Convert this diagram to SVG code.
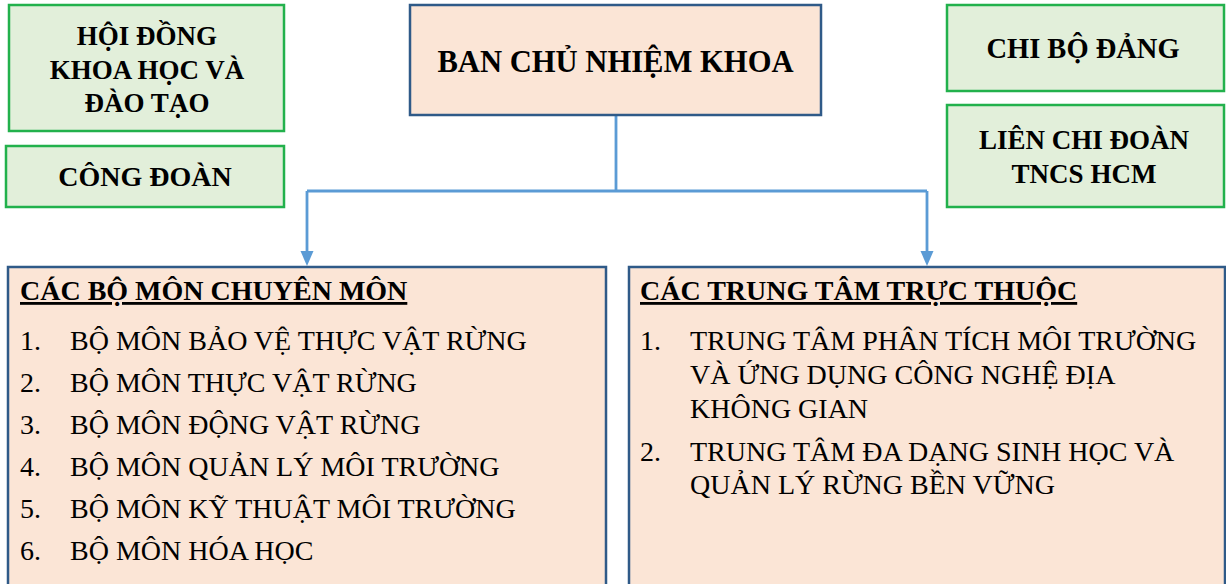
<svg xmlns="http://www.w3.org/2000/svg" width="1226" height="584" viewBox="0 0 1226 584">
<style>
.g{fill:#e2efda;stroke:#22b14c;stroke-width:2.5}
.p{fill:#fbe5d6;stroke:#2f5a88;stroke-width:2.5}
.t{font-family:"Liberation Serif","Times New Roman",serif;fill:#000}
.b{font-weight:bold;font-size:27px;text-anchor:middle}
.h{font-weight:bold;font-size:28px;text-decoration:underline}
.r{font-size:28px}
.c{fill:none;stroke:#5b9bd5;stroke-width:2.8}
</style>
<rect width="1226" height="584" fill="#fff"/>
<g id="connectors">
<path class="c" d="M616,115 V191"/>
<path class="c" d="M307,191 H927"/>
<path class="c" d="M307,191 V252"/>
<path class="c" d="M927,191 V252"/>
<path d="M300.5,251 L313.5,251 L307,266 Z" fill="#5b9bd5"/>
<path d="M920.5,251 L933.5,251 L927,266 Z" fill="#5b9bd5"/>
</g>
<g id="hoi-dong">
<rect class="g" x="9" y="5" width="275" height="126"/>
<text class="t b" x="147" y="45">HỘI ĐỒNG</text>
<text class="t b" x="147" y="79">KHOA HỌC VÀ</text>
<text class="t b" x="147" y="112">ĐÀO TẠO</text>
</g>
<g id="cong-doan">
<rect class="g" x="6" y="146" width="278" height="61"/>
<text class="t b" x="145" y="186" style="font-size:28px">CÔNG ĐOÀN</text>
</g>
<g id="ban-chu-nhiem">
<rect class="p" x="410" y="5" width="411" height="110"/>
<text class="t b" x="615.5" y="72" style="font-size:30.6px">BAN CHỦ NHIỆM KHOA</text>
</g>
<g id="chi-bo">
<rect class="g" x="947" y="5" width="277" height="86"/>
<text class="t b" x="1083" y="58" style="font-size:28.5px">CHI BỘ ĐẢNG</text>
</g>
<g id="lien-chi-doan">
<rect class="g" x="947" y="105" width="277" height="102"/>
<text class="t b" x="1084" y="149">LIÊN CHI ĐOÀN</text>
<text class="t b" x="1084" y="183">TNCS HCM</text>
</g>
<g id="bo-mon">
<rect class="p" x="8" y="267" width="598" height="330"/>
<text class="t h" x="20" y="300">CÁC BỘ MÔN CHUYÊN MÔN</text>
<text class="t r" x="20" y="350">1.</text><text class="t r" x="70" y="350">BỘ MÔN BẢO VỆ THỰC VẬT RỪNG</text>
<text class="t r" x="20" y="392">2.</text><text class="t r" x="70" y="392">BỘ MÔN THỰC VẬT RỪNG</text>
<text class="t r" x="20" y="434">3.</text><text class="t r" x="70" y="434">BỘ MÔN ĐỘNG VẬT RỪNG</text>
<text class="t r" x="20" y="476">4.</text><text class="t r" x="70" y="476">BỘ MÔN QUẢN LÝ MÔI TRƯỜNG</text>
<text class="t r" x="20" y="518">5.</text><text class="t r" x="70" y="518">BỘ MÔN KỸ THUẬT MÔI TRƯỜNG</text>
<text class="t r" x="20" y="560">6.</text><text class="t r" x="70" y="560">BỘ MÔN HÓA HỌC</text>
</g>
<g id="trung-tam">
<rect class="p" x="629" y="267" width="596" height="330"/>
<text class="t h" x="640" y="300">CÁC TRUNG TÂM TRỰC THUỘC</text>
<text class="t r" x="640" y="350">1.</text>
<text class="t r" x="690" y="350">TRUNG TÂM PHÂN TÍCH MÔI TRƯỜNG</text>
<text class="t r" x="690" y="384">VÀ ỨNG DỤNG CÔNG NGHỆ ĐỊA</text>
<text class="t r" x="690" y="418">KHÔNG GIAN</text>
<text class="t r" x="640" y="461">2.</text>
<text class="t r" x="690" y="461">TRUNG TÂM ĐA DẠNG SINH HỌC VÀ</text>
<text class="t r" x="690" y="494">QUẢN LÝ RỪNG BỀN VỮNG</text>
</g>
</svg>
